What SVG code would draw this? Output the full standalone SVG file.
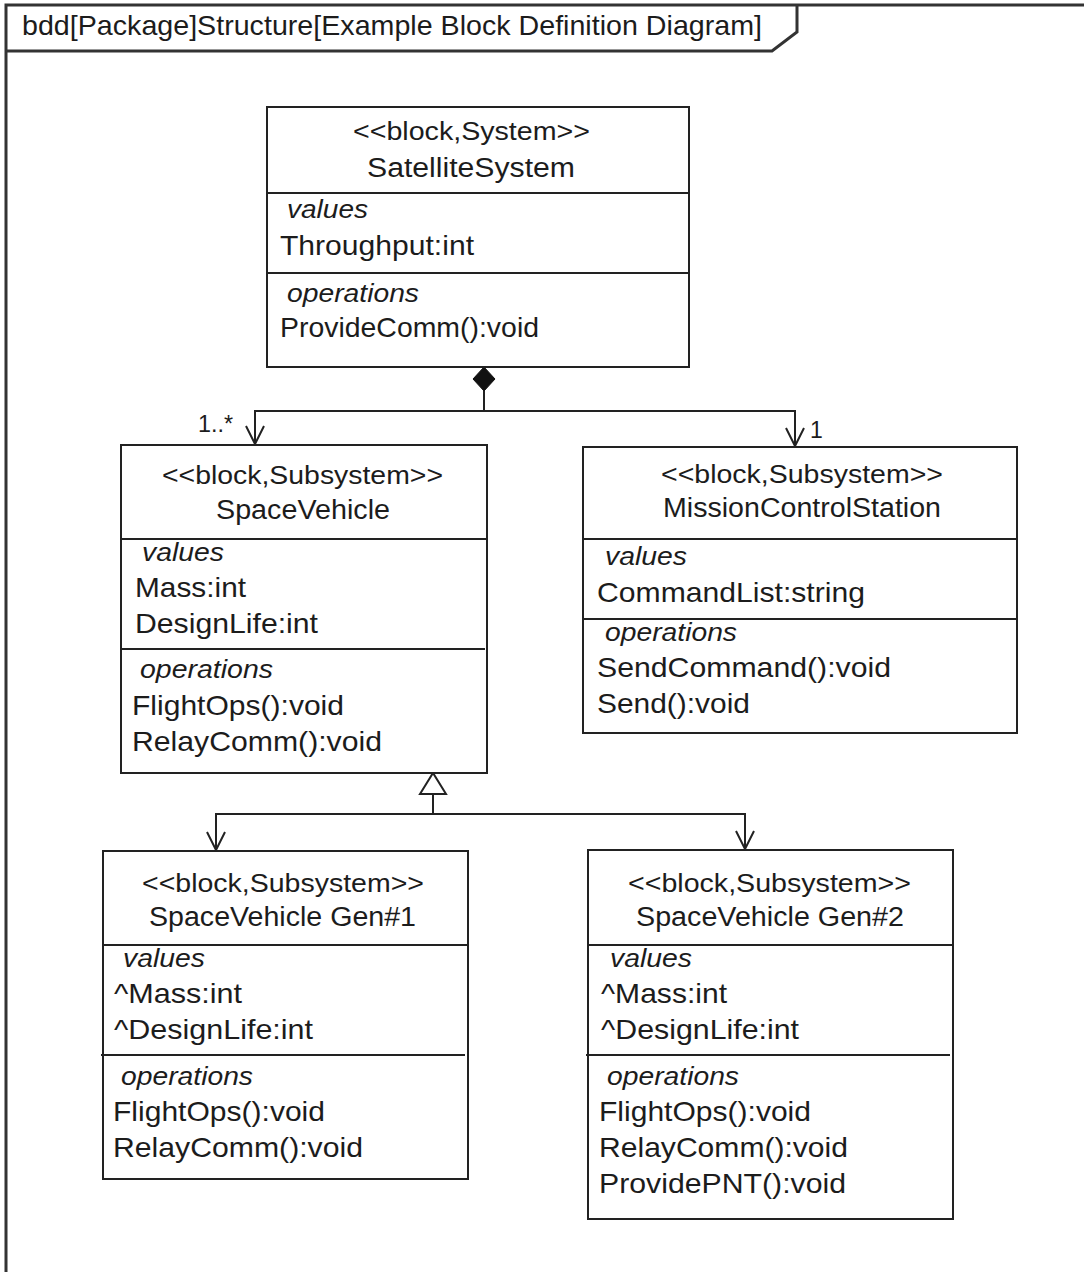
<svg xmlns="http://www.w3.org/2000/svg" width="1084" height="1272" viewBox="0 0 1084 1272">
  <style>
    .frame { fill: none; stroke: #333; stroke-width: 3; }
    .box { fill: #fff; stroke: #222; stroke-width: 2; }
    .div { stroke: #222; stroke-width: 2; }
    .conn { fill: none; stroke: #222; stroke-width: 2; }
    text { font-family: "Liberation Sans", Arial, sans-serif; fill: #1c1c1c; }
    .st { font-size: 25px; }
    .nm { font-size: 27px; }
    .cp { font-size: 25px; font-style: italic; }
    .it { font-size: 28px; }
    .mul { font-size: 23px; }
    .ttl { font-size: 28px; }
  </style>
  <defs>
    <marker id="openArrow" viewBox="-2 -11 22 22" refX="18" refY="0" markerWidth="22" markerHeight="22" markerUnits="userSpaceOnUse" orient="auto" overflow="visible">
      <path d="M0,-9 L18,0 L0,9" fill="none" stroke="#222" stroke-width="2"/>
    </marker>
    <marker id="composite" viewBox="0 -12 26 24" refX="0" refY="0" markerWidth="26" markerHeight="24" markerUnits="userSpaceOnUse" orient="auto" overflow="visible">
      <path d="M0,0 L12,-11 L24,0 L12,11 Z" fill="#111" stroke="#111" stroke-width="1"/>
    </marker>
    <marker id="generalization" viewBox="-1 -14 24 28" refX="0" refY="0" markerWidth="24" markerHeight="28" markerUnits="userSpaceOnUse" orient="auto" overflow="visible">
      <path d="M0,-13 L21,0 L0,13 Z" fill="#fff" stroke="#222" stroke-width="2"/>
    </marker>
  </defs>

  <rect width="1084" height="1272" fill="#fff"/>

  <!-- diagram frame with name tab -->
  <g id="frame">
    <path class="frame" d="M6,1272 V5 H1084"/>
    <path class="frame" d="M6,51 H772 L797,32 V5" stroke-width="2"/>
    <text class="ttl" x="22" y="35" textLength="740" lengthAdjust="spacingAndGlyphs">bdd[Package]Structure[Example Block Definition Diagram]</text>
  </g>

  <!-- connectors -->
  <g id="connectors">
    <!-- composition: SatelliteSystem owns SpaceVehicle and MissionControlStation -->
    <path class="conn" d="M484,367 V411" marker-start="url(#composite)"/>
    <path class="conn" d="M484,411 H255 V444" marker-end="url(#openArrow)"/>
    <path class="conn" d="M484,411 H795 V446" marker-end="url(#openArrow)"/>
    <text class="mul" x="198" y="432" textLength="35" lengthAdjust="spacingAndGlyphs">1..*</text>
    <text class="mul" x="810" y="438">1</text>
    <!-- generalization: Gen#1 and Gen#2 specialise SpaceVehicle -->
    <path class="conn" d="M433,814 V794" marker-end="url(#generalization)"/>
    <path class="conn" d="M433,814 H216 V850" marker-end="url(#openArrow)"/>
    <path class="conn" d="M433,814 H745 V849" marker-end="url(#openArrow)"/>
  </g>

  <!-- SatelliteSystem -->
  <g id="satellite-system">
    <rect class="box" x="267" y="107" width="422" height="260"/>
    <line class="div" x1="267" y1="193" x2="689" y2="193"/>
    <line class="div" x1="267" y1="273" x2="689" y2="273"/>
    <text class="st" x="353" y="140" textLength="237" lengthAdjust="spacingAndGlyphs">&lt;&lt;block,System&gt;&gt;</text>
    <text class="nm" x="367" y="177" textLength="208" lengthAdjust="spacingAndGlyphs">SatelliteSystem</text>
    <text class="cp" x="287" y="218" textLength="81" lengthAdjust="spacingAndGlyphs">values</text>
    <text class="it" x="280" y="255" textLength="194" lengthAdjust="spacingAndGlyphs">Throughput:int</text>
    <text class="cp" x="287" y="302" textLength="132" lengthAdjust="spacingAndGlyphs">operations</text>
    <text class="it" x="280" y="337" textLength="259" lengthAdjust="spacingAndGlyphs">ProvideComm():void</text>
  </g>

  <!-- SpaceVehicle -->
  <g id="space-vehicle">
    <rect class="box" x="121" y="445" width="366" height="328"/>
    <line class="div" x1="121" y1="539" x2="487" y2="539"/>
    <line class="div" x1="121" y1="649" x2="485" y2="649"/>
    <text class="st" x="162" y="484" textLength="281" lengthAdjust="spacingAndGlyphs">&lt;&lt;block,Subsystem&gt;&gt;</text>
    <text class="nm" x="216" y="519" textLength="174" lengthAdjust="spacingAndGlyphs">SpaceVehicle</text>
    <text class="cp" x="142" y="561" textLength="82" lengthAdjust="spacingAndGlyphs">values</text>
    <text class="it" x="135" y="597" textLength="111" lengthAdjust="spacingAndGlyphs">Mass:int</text>
    <text class="it" x="135" y="633" textLength="183" lengthAdjust="spacingAndGlyphs">DesignLife:int</text>
    <text class="cp" x="140" y="678" textLength="133" lengthAdjust="spacingAndGlyphs">operations</text>
    <text class="it" x="132" y="715" textLength="212" lengthAdjust="spacingAndGlyphs">FlightOps():void</text>
    <text class="it" x="132" y="751" textLength="250" lengthAdjust="spacingAndGlyphs">RelayComm():void</text>
  </g>

  <!-- MissionControlStation -->
  <g id="mission-control-station">
    <rect class="box" x="583" y="447" width="434" height="286"/>
    <line class="div" x1="583" y1="539" x2="1017" y2="539"/>
    <line class="div" x1="583" y1="619" x2="1017" y2="619"/>
    <text class="st" x="661" y="483" textLength="282" lengthAdjust="spacingAndGlyphs">&lt;&lt;block,Subsystem&gt;&gt;</text>
    <text class="nm" x="663" y="517" textLength="278" lengthAdjust="spacingAndGlyphs">MissionControlStation</text>
    <text class="cp" x="605" y="565" textLength="82" lengthAdjust="spacingAndGlyphs">values</text>
    <text class="it" x="597" y="602" textLength="268" lengthAdjust="spacingAndGlyphs">CommandList:string</text>
    <text class="cp" x="605" y="641" textLength="132" lengthAdjust="spacingAndGlyphs">operations</text>
    <text class="it" x="597" y="677" textLength="294" lengthAdjust="spacingAndGlyphs">SendCommand():void</text>
    <text class="it" x="597" y="713" textLength="153" lengthAdjust="spacingAndGlyphs">Send():void</text>
  </g>

  <!-- SpaceVehicle Gen#1 -->
  <g id="space-vehicle-gen1">
    <rect class="box" x="103" y="851" width="365" height="328"/>
    <line class="div" x1="103" y1="945" x2="468" y2="945"/>
    <line class="div" x1="101" y1="1055" x2="465" y2="1055"/>
    <text class="st" x="142" y="892" textLength="282" lengthAdjust="spacingAndGlyphs">&lt;&lt;block,Subsystem&gt;&gt;</text>
    <text class="nm" x="149" y="926" textLength="267" lengthAdjust="spacingAndGlyphs">SpaceVehicle Gen#1</text>
    <text class="cp" x="123" y="967" textLength="82" lengthAdjust="spacingAndGlyphs">values</text>
    <text class="it" x="114" y="1003" textLength="128" lengthAdjust="spacingAndGlyphs">^Mass:int</text>
    <text class="it" x="114" y="1039" textLength="199" lengthAdjust="spacingAndGlyphs">^DesignLife:int</text>
    <text class="cp" x="121" y="1085" textLength="132" lengthAdjust="spacingAndGlyphs">operations</text>
    <text class="it" x="113" y="1121" textLength="212" lengthAdjust="spacingAndGlyphs">FlightOps():void</text>
    <text class="it" x="113" y="1157" textLength="250" lengthAdjust="spacingAndGlyphs">RelayComm():void</text>
  </g>

  <!-- SpaceVehicle Gen#2 -->
  <g id="space-vehicle-gen2">
    <rect class="box" x="588" y="850" width="365" height="369"/>
    <line class="div" x1="588" y1="945" x2="953" y2="945"/>
    <line class="div" x1="586" y1="1055" x2="950" y2="1055"/>
    <text class="st" x="628" y="892" textLength="283" lengthAdjust="spacingAndGlyphs">&lt;&lt;block,Subsystem&gt;&gt;</text>
    <text class="nm" x="636" y="926" textLength="268" lengthAdjust="spacingAndGlyphs">SpaceVehicle Gen#2</text>
    <text class="cp" x="610" y="967" textLength="82" lengthAdjust="spacingAndGlyphs">values</text>
    <text class="it" x="601" y="1003" textLength="126" lengthAdjust="spacingAndGlyphs">^Mass:int</text>
    <text class="it" x="601" y="1039" textLength="198" lengthAdjust="spacingAndGlyphs">^DesignLife:int</text>
    <text class="cp" x="607" y="1085" textLength="132" lengthAdjust="spacingAndGlyphs">operations</text>
    <text class="it" x="599" y="1121" textLength="212" lengthAdjust="spacingAndGlyphs">FlightOps():void</text>
    <text class="it" x="599" y="1157" textLength="249" lengthAdjust="spacingAndGlyphs">RelayComm():void</text>
    <text class="it" x="599" y="1193" textLength="247" lengthAdjust="spacingAndGlyphs">ProvidePNT():void</text>
  </g>
</svg>
